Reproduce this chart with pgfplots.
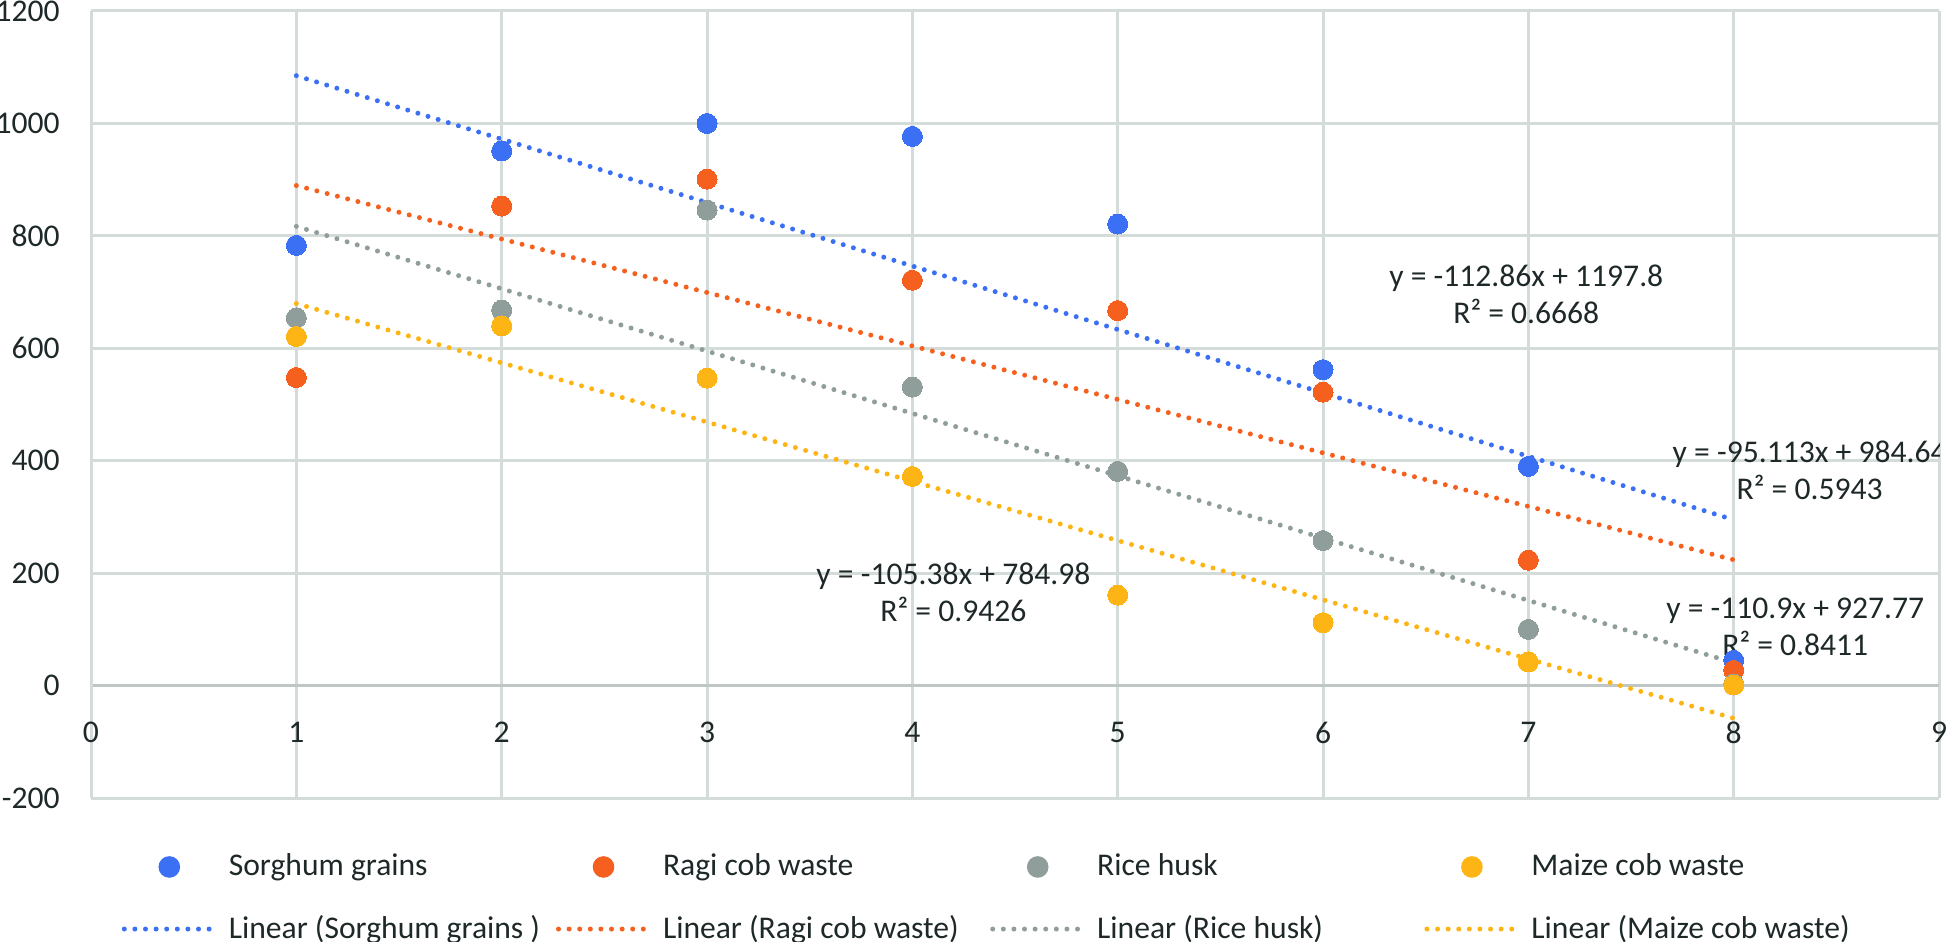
\documentclass[border=0pt]{standalone}
\usepackage{pgfplots}
\usepackage{pgfplotstable}
\pgfplotsset{compat=1.18}
\usepackage{fontspec}
\setmainfont{Carlito}
\definecolor{cblue}{HTML}{3B70F5}
\definecolor{corange}{HTML}{F5601E}
\definecolor{cgray}{HTML}{909E9B}
\definecolor{cyellow}{HTML}{FDB515}
\definecolor{gridc}{HTML}{D4DCDA}
\definecolor{axisc}{HTML}{BEC7C5}
\definecolor{textc}{HTML}{1E2828}
\pgfplotstableread{
x sorghum ragi rice maize
1 783 548 654 621
2 951 853 668 640
3 1000 901 846 547
4 977 721 531 372
5 821 667 381 161
6 562 522 258 112
7 390 223 100 42
8 45 27 3 1
}\datatable
\newcommand{\lfont}{\fontsize{7.9}{9.25}\selectfont}
\begin{document}
\lfont
\begin{tikzpicture}
\begin{axis}[
  name=ax,
  width=462pt, height=196.75pt, scale only axis,
  xmin=0, xmax=9, ymin=-200, ymax=1200,
  xtick={0,1,...,9}, ytick={-200,0,200,400,600,800,1000,1200},
  axis x line=middle, axis y line=left,
  axis line style={-, draw=gridc, line width=0.75pt},
  x axis line style={draw=axisc, line width=0.9pt},
  grid=major, grid style={draw=gridc, line width=0.75pt},
  major tick length=0pt,
  tick label style={font=\lfont, text=textc},
  /pgf/number format/assume math mode=true,
  /pgf/number format/1000 sep={},
  xticklabel style={yshift=-6.25pt},
  yticklabel style={xshift=-5pt},
  hide obscured x ticks=false, hide obscured y ticks=false,
  legend columns=4,
  legend style={at={(axis description cs:0,0)}, anchor=north west,
    xshift=7.5pt, yshift=-13.7pt, draw=none, fill=none,
    inner sep=0pt, row sep=8.7pt,
    nodes={inner sep=0pt, font=\lfont, text=textc},
    /tikz/every odd column/.style={column sep=3pt},
    /tikz/every even column/.style={column sep=0pt}},
  scat/.style={only marks, mark=*, mark size=2.5pt, color=#1,
    mark options={draw=#1, fill=#1, line width=0pt},
    legend image code/.code={\fill[#1] (11.25pt,0pt) circle (2.5pt);}},
  trend/.style={no markers, draw=#1, line width=1.25pt, line cap=round,
    dash pattern=on 0pt off 2.65pt,
    legend image code/.code={\draw[##1] (0pt,0pt) -- (22.5pt,0pt);}},
]
\addplot[scat=cblue] table[x=x, y=sorghum] {\datatable};
\addlegendentry{\makebox[81.8pt][l]{Sorghum grains}}
\addplot[scat=corange] table[x=x, y=ragi] {\datatable};
\addlegendentry{\makebox[81.8pt][l]{Ragi cob waste}}
\addplot[scat=cgray] table[x=x, y=rice] {\datatable};
\addlegendentry{\makebox[81.8pt][l]{Rice husk}}
\addplot[scat=cyellow] table[x=x, y=maize] {\datatable};
\addlegendentry{\makebox[81.8pt][l]{Maize cob waste}}
\addplot[trend=cblue] coordinates {(1,1084.94) (8,294.92)};
\addlegendentry{\makebox[81.8pt][l]{Linear (Sorghum grains )}}
\addplot[trend=corange] coordinates {(1,889.527) (8,223.736)};
\addlegendentry{\makebox[81.8pt][l]{Linear (Ragi cob waste)}}
\addplot[trend=cgray] coordinates {(1,816.87) (8,40.57)};
\addlegendentry{\makebox[81.8pt][l]{Linear (Rice husk)}}
\addplot[trend=cyellow] coordinates {(1,679.6) (8,-58.06)};
\addlegendentry{\makebox[81.8pt][l]{Linear (Maize cob waste)}}
\node[align=center, font=\lfont, text=textc] at (axis cs:6.99,696) {y = -112.86x + 1197.8\\R² = 0.6668};
\node[align=center, font=\lfont, text=textc] at (axis cs:8.37,383) {y = -95.113x + 984.64\\R² = 0.5943};
\node[align=center, font=\lfont, text=textc] at (axis cs:8.30,105) {y = -110.9x + 927.77\\R² = 0.8411};
\node[align=center, font=\lfont, text=textc] at (axis cs:4.2,166) {y = -105.38x + 784.98\\R² = 0.9426};
\end{axis}
\pgfresetboundingbox
\path[use as bounding box] ([shift={(-22.75pt,-35.75pt)}]ax.south west) rectangle ([shift={(1.75pt,2.75pt)}]ax.north east);
\end{tikzpicture}
\end{document}
